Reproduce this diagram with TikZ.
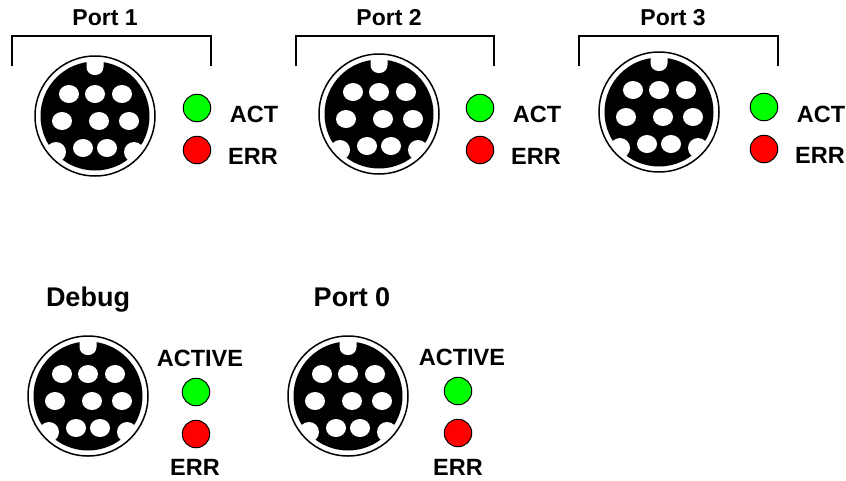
\documentclass[tikz,border=0pt]{standalone}
\usepackage{fontspec}
\setmainfont{Liberation Sans}
\usetikzlibrary{shapes.geometric}
\definecolor{ledgreen}{RGB}{0,255,0}
\definecolor{ledred}{RGB}{255,0,0}
\tikzstyle{shell}=[circle,draw=black,line width=1.5pt,minimum size=120pt,inner sep=0pt]
\tikzstyle{face}=[circle,fill=black,minimum size=109pt,inner sep=0pt]
\tikzstyle{hole}=[ellipse,fill=white,minimum width=20pt,minimum height=18pt,inner sep=0pt]
\tikzstyle{notch}=[rectangle,rounded corners=8pt,fill=white,minimum width=17pt,minimum height=26pt,inner sep=0pt]
\tikzstyle{sidenotch}=[circle,fill=white,minimum size=20pt,inner sep=0pt]
\tikzstyle{led}=[circle,draw=black,line width=1pt,minimum size=27.5pt,inner sep=0pt]
\tikzstyle{label}=[font=\bfseries\fontsize{23.5}{26}\selectfont,inner sep=0pt]
\tikzstyle{title}=[font=\bfseries\fontsize{23}{26}\selectfont,inner sep=0pt]
\tikzstyle{bigtitle}=[font=\bfseries\fontsize{27}{30}\selectfont,inner sep=0pt]
\tikzstyle{bracket}=[draw=black,line width=1.2pt]
\newcommand{\connector}[3]{%
  \begin{scope}[shift={(#2,#3)}]
    \node (#1face) [face] at (0,0) {};
    \node (#1top) [notch] at (0,-54) {};
    \node (#1left) [sidenotch] at (-39,36) {};
    \node (#1right) [sidenotch] at (39,36) {};
    \node (#1a) [hole] at (-26,-22) {};
    \node (#1b) [hole] at (0,-22) {};
    \node (#1c) [hole] at (27,-22) {};
    \node (#1d) [hole] at (-33,5) {};
    \node (#1e) [hole] at (4,5) {};
    \node (#1f) [hole] at (34,5) {};
    \node (#1g) [hole] at (-12,32) {};
    \node (#1h) [hole] at (12,32) {};
    \node (#1shell) [shell] at (0,0) {};
  \end{scope}
}
\begin{document}
\begin{tikzpicture}[x=1pt,y=-1pt]
		\useasboundingbox (0,0) rectangle (846,480);
		\fill[white] (0,0) rectangle (846,480);

		% top row
		\connector{pa}{95}{116}
		\connector{pb}{379}{114}
		\connector{pc}{659}{112}
		% bottom row
		\connector{pd}{88}{396}
		\connector{pe}{348}{396}

		\node (ta) [title] at (105,18) {Port 1};
		\node (tb) [title] at (389,18) {Port 2};
		\node (tc) [title] at (673,18) {Port 3};
		\node (td) [bigtitle,anchor=base] at (88,306) {Debug};
		\node (te) [bigtitle,anchor=base] at (352,306) {Port 0};

		\coordinate (ba1) at (12,66);
		\coordinate (ba2) at (12,36);
		\coordinate (ba3) at (211,36);
		\coordinate (ba4) at (211,66);
		\coordinate (bb1) at (296,66);
		\coordinate (bb2) at (296,36);
		\coordinate (bb3) at (494,36);
		\coordinate (bb4) at (494,66);
		\coordinate (bc1) at (579,66);
		\coordinate (bc2) at (579,36);
		\coordinate (bc3) at (778,36);
		\coordinate (bc4) at (778,66);
		\draw[bracket] (ba1) -- (ba2) -- (ba3) -- (ba4);
		\draw[bracket] (bb1) -- (bb2) -- (bb3) -- (bb4);
		\draw[bracket] (bc1) -- (bc2) -- (bc3) -- (bc4);

		\node (ga) [led,fill=ledgreen] at (197,108) {};
		\node (ra) [led,fill=ledred] at (197,150) {};
		\node (gb) [led,fill=ledgreen] at (480,108) {};
		\node (rb) [led,fill=ledred] at (480,150) {};
		\node (gc) [led,fill=ledgreen] at (764,107) {};
		\node (rc) [led,fill=ledred] at (764,149) {};
		\node (gd) [led,fill=ledgreen] at (196,392) {};
		\node (rd) [led,fill=ledred] at (196,434) {};
		\node (ge) [led,fill=ledgreen] at (458,391) {};
		\node (re) [led,fill=ledred] at (458,433) {};

		\node (la) [label] at (254,114) {ACT};
		\node (ea) [label] at (253,156) {ERR};
		\node (lb) [label] at (537,114) {ACT};
		\node (eb) [label] at (536,156) {ERR};
		\node (lc) [label] at (821,114) {ACT};
		\node (ec) [label] at (820,155) {ERR};
		\node (ld) [label] at (200,358) {ACTIVE};
		\node (ed) [label] at (195,467) {ERR};
		\node (le) [label] at (462,357) {ACTIVE};
		\node (ee) [label] at (458,467) {ERR};

		\end{tikzpicture}
\end{document}
